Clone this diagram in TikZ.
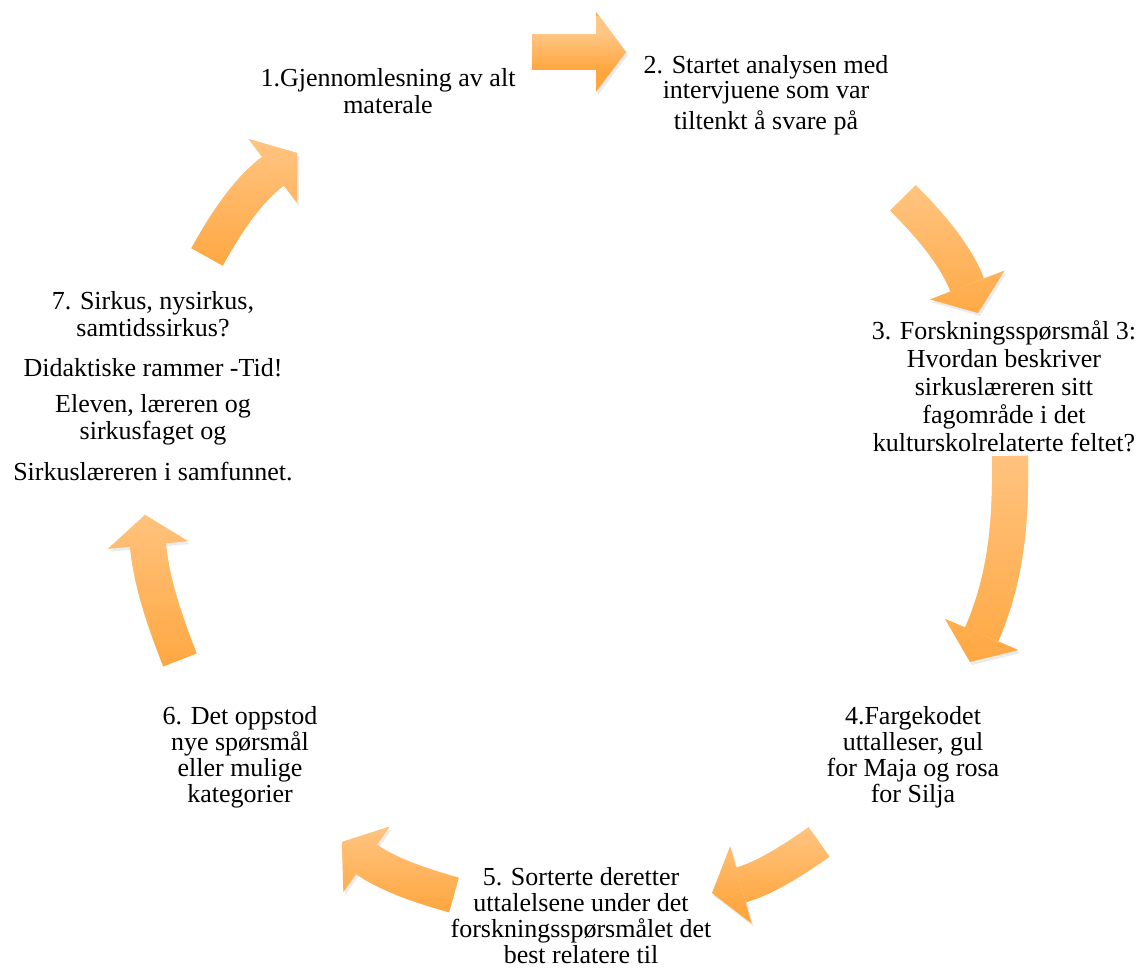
\documentclass[tikz,border=0pt]{standalone}
\usepackage{fontspec}
\setmainfont{Liberation Serif}
\usetikzlibrary{arrows.meta,fadings}
\definecolor{arrowdark}{RGB}{255,166,62}
\definecolor{arrowlight}{RGB}{255,198,132}
\tikzstyle{stage}=[align=center,inner sep=0pt]
\tikzstyle{bigarrow}=[draw=arrowdark,line width=18pt,
  -{Triangle[length=15pt,width=40pt,line width=0pt]},
  preaction={draw=black!8,transform canvas={shift={(1pt,-1.5pt)}}},
  postaction={draw=arrowlight,path fading=south}]

\begin{document}
\begin{tikzpicture}[x=0.5pt,y=0.5pt]
  \useasboundingbox (0,0) rectangle (1137,-971);
  % stages of the analysis
  \node[stage,font=\fontsize{13}{13.5}\selectfont] (s1) at (388,-91)
    {1.Gjennomlesning av alt\\materale};
  \node[stage,font=\fontsize{13}{12.5}\selectfont] (s2) at (766,-95)
    {2. Startet analysen med\\intervjuene som var\\[3pt]tiltenkt å svare på};
  \node[stage,font=\fontsize{13}{14}\selectfont] (s3) at (1004,-386)
    {3. Forskningsspørsmål 3:\\Hvordan beskriver\\sirkuslæreren sitt\\fagområde i det\\kulturskolrelaterte feltet?};
  \node[stage,font=\fontsize{13}{13}\selectfont] (s4) at (913,-757)
    {4.Fargekodet\\uttalleser, gul\\for Maja og rosa\\for Silja};
  \node[stage,font=\fontsize{13}{13}\selectfont] (s5) at (581,-916)
    {5. Sorterte deretter\\uttalelsene under det\\forskningsspørsmålet det\\best relatere til};
  \node[stage,font=\fontsize{13}{13}\selectfont] (s6) at (240,-757)
    {6. Det oppstod\\nye spørsmål\\eller mulige\\kategorier};
  \node[stage,font=\fontsize{13}{13.5}\selectfont] (s7) at (153,-386)
    {7. Sirkus, nysirkus,\\samtidssirkus?\\[6.5pt]Didaktiske rammer -Tid!\\[4.5pt]Eleven, læreren og\\sirkusfaget og\\[7pt]Sirkuslæreren i samfunnet.};
  % arrow ends
  \coordinate (a1s) at (532,-52);  \coordinate (a1e) at (626,-52);
  \coordinate (a2s) at (903,-198); \coordinate (a2e) at (978,-313);
  \coordinate (a3s) at (1010,-456);\coordinate (a3e) at (970,-662);
  \coordinate (a4s) at (819,-842); \coordinate (a4e) at (712,-893);
  \coordinate (a5s) at (454,-895); \coordinate (a5e) at (342,-842);
  \coordinate (a6s) at (180,-660); \coordinate (a6e) at (145,-515);
  \coordinate (a7s) at (207,-257); \coordinate (a7e) at (297,-153);
  \draw[bigarrow] (a1s) -- (a1e);
  \draw[bigarrow] (a2s) to[bend left=12] (a2e);
  \draw[bigarrow] (a3s) to[bend left=12] (a3e);
  \draw[bigarrow] (a4s) to[bend left=10] (a4e);
  \draw[bigarrow] (a5s) to[bend left=10] (a5e);
  \draw[bigarrow] (a6s) to[bend left=8] (a6e);
  \draw[bigarrow] (a7s) to[bend left=12] (a7e);
\end{tikzpicture}
\end{document}
